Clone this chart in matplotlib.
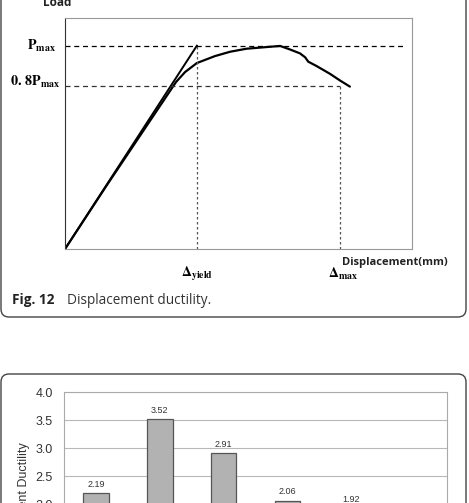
import matplotlib
matplotlib.use("Agg")
import matplotlib.pyplot as plt
from matplotlib.patches import FancyBboxPatch

W, H = 469, 503

# load-displacement curve (arbitrary units, axes go 0..100)
curve_x = [0, 12, 24.5, 32, 34.6, 38, 43.2, 47.6, 52.3, 57.1, 62, 64.8,
           67.7, 69.2, 70.1, 72.5, 76.4, 79.3, 82.1]
curve_y = [0, 27.5, 55.5, 72.3, 76.6, 80.5, 83.5, 85.4, 86.7, 87.3, 87.9, 86.4,
           84.7, 83.0, 81.1, 79.2, 75.8, 72.9, 70.3]
p_max = 88
yield_disp = 38
max_disp = 79.3
pmax_line_end = 98.3

# displacement ductility per specimen
ductility = [2.19, 3.52, 2.91, 2.06, 1.92]
n_slots = 6
y_ticks = [0.0, 0.5, 1.0, 1.5, 2.0, 2.5, 3.0, 3.5, 4.0]

plt.rcParams["mathtext.fontset"] = "stix"


def fx(px):
    return px / W


def fy(py):
    return 1 - py / H


fig = plt.figure(figsize=(W / 100, H / 100), dpi=100)

# rounded frames (in inches)
for (x0, y0, x1, y1) in [(1, -10, 466, 317), (1, 374, 466, 620)]:
    box = FancyBboxPatch((x0 / 100, (H - y1) / 100), (x1 - x0) / 100, (y1 - y0) / 100,
                         boxstyle="round,pad=0,rounding_size=0.08",
                         transform=fig.dpi_scale_trans, facecolor="none",
                         edgecolor="#444444", linewidth=1.0)
    fig.patches.append(box)

# ---- top panel: load-displacement sketch ----
ax = fig.add_axes([fx(65), fy(249), (412 - 65) / W, (249 - 18) / H])
ax.set_xlim(0, 100)
ax.set_ylim(0, 100)
ax.set_xticks([])
ax.set_yticks([])
for side in ["top", "right", "bottom"]:
    ax.spines[side].set_color("#999999")
    ax.spines[side].set_linewidth(0.8)
ax.spines["left"].set_color("#333333")
ax.spines["left"].set_linewidth(0.8)

ax.plot(curve_x, curve_y, color="black", lw=1.6, solid_capstyle="round")
ax.plot([0, yield_disp], [0, p_max], color="black", lw=1.4)

ax.plot([0, pmax_line_end], [p_max, p_max], color="black", lw=0.9, ls=(0, (4, 3)))
ax.plot([0, max_disp], [0.8 * p_max, 0.8 * p_max], color="#333333", lw=0.9, ls=(0, (4, 3)))
ax.plot([yield_disp, yield_disp], [0, p_max], color="#555555", lw=0.9, ls=(0, (2, 2)))
ax.plot([max_disp, max_disp], [0, 0.8 * p_max], color="#555555", lw=0.9, ls=(0, (2, 2)))

fig.text(fx(57), fy(6), "Load", fontsize=8.5, fontweight="bold", family="Open Sans",
         ha="center", va="baseline", color="#222222")
fig.text(fx(56), fy(46), r"$\mathbf{P_{max}}$", fontsize=10.2, ha="right", va="center")
fig.text(fx(60), fy(82), r"$\mathbf{0.\,8P_{max}}$", fontsize=10.2, ha="right", va="center")
fig.text(fx(448), fy(262), "Displacement(mm)", fontsize=8, fontweight="bold",
         family="Open Sans", ha="right", va="center", color="#222222")
fig.text(fx(197), fy(274), r"$\mathbf{\Delta_{yield}}$", fontsize=10, ha="center", va="center")
fig.text(fx(343), fy(274), r"$\mathbf{\Delta_{max}}$", fontsize=10, ha="center", va="center")

fig.text(fx(12), fy(300), "Fig. 12", fontsize=9.8, fontweight="bold", family="Open Sans",
         ha="left", va="center", color="#222222")
fig.text(fx(67), fy(300), "Displacement ductility.", fontsize=9.8, family="Open Sans",
         ha="left", va="center", color="#333333")

# ---- bottom panel: ductility bars (cut off by the frame) ----
bx = fig.add_axes([fx(64), fy(616), (447 - 64) / W, (616 - 392) / H])
bx.set_xlim(-0.5, n_slots - 0.5)
bx.set_ylim(0, 4.0)
bx.set_yticks(y_ticks)
bx.set_yticklabels([f"{t:.1f}" for t in y_ticks])
bx.set_xticks([])
bx.tick_params(axis="y", length=0, pad=8, labelsize=9, labelcolor="#333333")
for lbl in bx.get_yticklabels():
    lbl.set_family("Liberation Sans")
bx.grid(axis="y", color="#b8b8b8", lw=0.8)
bx.set_axisbelow(True)
for side in bx.spines:
    bx.spines[side].set_color("#aaaaaa")
    bx.spines[side].set_linewidth(0.8)

bars = bx.bar(range(len(ductility)), ductility, width=0.4, color="#b2b2b2",
              edgecolor="#555555", linewidth=0.9)
bx.bar_label(bars, labels=[f"{v:.2f}" for v in ductility], padding=3,
             fontsize=6.5, color="#333333", family="Liberation Sans")
bx.set_ylabel("Displacement Ductility", fontsize=9, family="Liberation Sans",
              color="#333333", labelpad=4)

fig.savefig("out.png", dpi=100)
